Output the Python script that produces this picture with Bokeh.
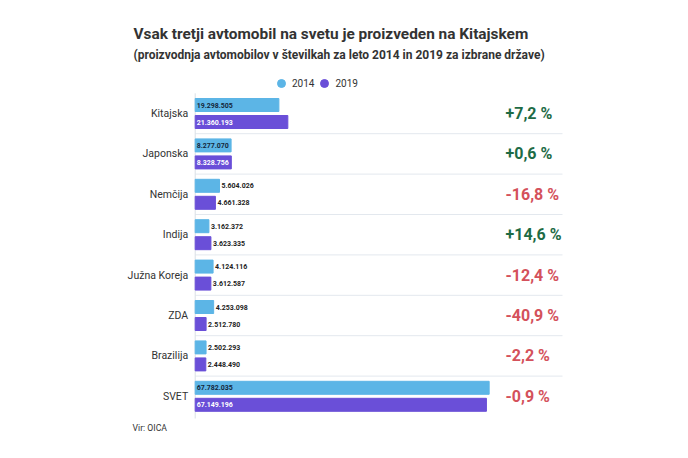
from bokeh.plotting import figure
from bokeh.models import ColumnDataSource, Range1d, Label, Legend, LegendItem
from bokeh.core.properties import value
from bokeh.embed import file_html
from bokeh.resources import INLINE

# ---------------- data ----------------
countries = ["Kitajska", "Japonska", "Nemčija", "Indija", "Južna Koreja", "ZDA", "Brazilija", "SVET"]
v2014 = [19298505, 8277070, 5604026, 3162372, 4124116, 4253098, 2502293, 67782035]
v2019 = [21360193, 8328756, 4661328, 3623335, 3612587, 2512780, 2448490, 67149196]
changes = ["+7,2 %", "+0,6 %", "-16,8 %", "+14,6 %", "-12,4 %", "-40,9 %", "-2,2 %", "-0,9 %"]
years = ["2014", "2019"]

title_text = "Vsak tretji avtomobil na svetu je proizveden na Kitajskem"
subtitle_text = "(proizvodnja avtomobilov v številkah za leto 2014 in 2019 za izbrane države)"
source_text = "Vir: OICA"

# ---------------- styling ----------------
FONT = "Roboto"
C2014 = "#5cb5e6"
C2019 = "#6a4fd8"
GREEN = "#1d6b45"
RED = "#d4515b"
DARK = "#333333"

W, H = 688, 458
PX_PER_M = 4.337          # pixels per million
X0_PX = 194.7             # pixel position of zero
ROW_PX = 40.4
ROW0_PX = 113.0
OFF = 8.5 / ROW_PX
BAR_H = 13.0 / ROW_PX

def fmt(v):
    return f"{v:,}".replace(",", ".")

n = len(countries)
idx = list(range(n))
m14 = [v / 1e6 for v in v2014]
m19 = [v / 1e6 for v in v2019]

p = figure(width=W, height=H, output_backend="svg", toolbar_location=None,
           min_border=0, outline_line_color=None,
           x_range=Range1d(-X0_PX / PX_PER_M, (W - X0_PX) / PX_PER_M),
           y_range=Range1d((H - ROW0_PX) / ROW_PX, -ROW0_PX / ROW_PX))
p.axis.visible = False
p.grid.visible = False
p.background_fill_color = "white"
p.border_fill_color = "white"

sep_end = (562 - X0_PX) / PX_PER_M
text_x = (505 - X0_PX) / PX_PER_M

# row separators
p.segment(x0=[0] * (n - 1), x1=[sep_end] * (n - 1),
          y0=[i + 0.5 for i in range(n - 1)], y1=[i + 0.5 for i in range(n - 1)],
          line_color="#e3e8ee", line_width=1)
# axis line
p.segment(x0=[0], x1=[0], y0=[-0.5], y1=[n - 0.45], line_color="#dadfe5", line_width=1)

src = ColumnDataSource(dict(
    y14=[i - OFF for i in idx], y19=[i + OFF for i in idx], m14=m14, m19=m19,
))
p.hbar(y="y14", left=0, right="m14", height=BAR_H, color=C2014, source=src)
p.hbar(y="y19", left=0, right="m19", height=BAR_H, color=C2019, source=src)

# value labels
inside_thr = 7.0
for sign, ms, labels, in_color in ((-1, m14, v2014, "#14263a"), (1, m19, v2019, "white")):
    yy = [i + sign * OFF for i in idx]
    ins = [k for k in idx if ms[k] > inside_thr]
    outs = [k for k in idx if ms[k] <= inside_thr]
    p.text(x=[0] * len(ins), y=[yy[k] for k in ins], text=[fmt(labels[k]) for k in ins],
           x_offset=1.5, text_align="left", text_baseline="middle",
           text_font=value(FONT), text_font_style="bold", text_font_size="7px",
           text_color=in_color)
    p.text(x=[ms[k] for k in outs], y=[yy[k] for k in outs], text=[fmt(labels[k]) for k in outs],
           x_offset=2, text_align="left", text_baseline="middle",
           text_font=value(FONT), text_font_style="bold", text_font_size="7px",
           text_color="#222222")

# category labels
p.text(x=[0] * n, y=idx, text=countries, x_offset=-7, text_align="right",
       text_baseline="middle", text_font=value(FONT), text_font_size="10.5px",
       text_color=DARK)

# change labels
p.text(x=[text_x] * n, y=idx, text=changes, text_align="left", text_baseline="middle",
       text_font=value(FONT), text_font_style="bold", text_font_size="16px",
       text_color=[GREEN if c.startswith("+") else RED for c in changes])

# titles
p.add_layout(Label(x=133, y=H - 33, x_units="screen", y_units="screen", text=title_text,
                   text_font=FONT, text_font_style="bold", text_font_size="15.4px",
                   text_color=DARK, text_baseline="alphabetic"))
p.add_layout(Label(x=133, y=H - 54.5, x_units="screen", y_units="screen", text=subtitle_text,
                   text_font=FONT, text_font_style="bold", text_font_size="12px",
                   text_color=DARK, text_baseline="alphabetic"))
p.add_layout(Label(x=132, y=H - 427, x_units="screen", y_units="screen", text=source_text,
                   text_font=FONT, text_font_size="8.7px",
                   text_color=DARK, text_baseline="alphabetic"))

# legend (circle markers)
nan = float("nan")
lg14 = p.scatter(x=[nan], y=[nan], marker="circle", color=C2014)
lg19 = p.scatter(x=[nan], y=[nan], marker="circle", color=C2019)
legend = Legend(items=[LegendItem(label=years[0], renderers=[lg14]),
                       LegendItem(label=years[1], renderers=[lg19])],
                orientation="horizontal", location=(271, H - 93),
                glyph_width=20, glyph_height=20, label_standoff=1, spacing=-2,
                padding=0, margin=0, border_line_color=None, background_fill_alpha=0,
                label_text_font=FONT, label_text_font_size="10px", label_text_color=DARK,
                label_height=20)
p.add_layout(legend)

open("out.html", "w").write(file_html(p, INLINE))
